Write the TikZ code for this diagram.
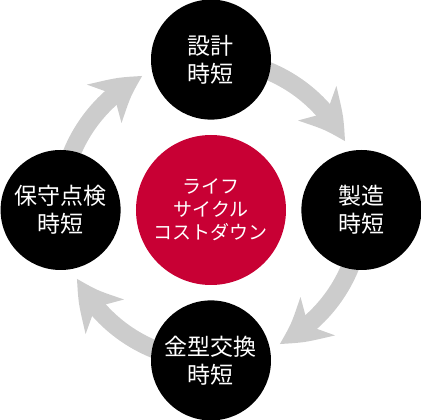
\documentclass[tikz,border=0pt]{standalone}
\usepackage{fontspec}
\newfontfamily\jpfont{Noto Sans CJK JP}
\usetikzlibrary{positioning,arrows.meta,bending,backgrounds}

\definecolor{lcred}{RGB}{200,0,52}
\definecolor{ringgray}{RGB}{204,204,204}

\begin{document}
\begin{tikzpicture}[
    x=1pt, y=1pt,
    phase/.style={circle, fill=black, text=white, minimum size=120pt,
                  inner sep=0pt, align=center,
                  font=\jpfont\fontsize{23}{28}\selectfont},
    hub/.style={circle, fill=lcred, text=white, minimum size=150pt,
                inner sep=0pt, align=center,
                font=\jpfont\fontsize{19}{23}\selectfont},
    cycle/.style={draw=ringgray, line width=18pt,
                  -{Stealth[length=47pt, width=50pt, inset=13pt, bend]}},
    node distance=15pt
]
\useasboundingbox (-211,-210) rectangle (210,210);

% centre
\node[hub] (life) at (0,0) {ライフ\\サイクル\\コストダウン};

% four phases round the centre
\node[phase, above=of life] (design) {設計\\時短};
\node[phase, right=of life] (make) {製造\\時短};
\node[phase, below=of life] (mold) {金型交換\\時短};
\node[phase, left=of life] (upkeep) {保守点検\\時短};

% clockwise ring, behind the circles
\begin{scope}[on background layer]
  \draw[cycle] (design.center) arc[start angle=90, end angle=27, radius=150];
  \draw[cycle] (make.center) arc[start angle=0, end angle=-63, radius=150];
  \draw[cycle] (mold.center) arc[start angle=-90, end angle=-153, radius=150];
  \draw[cycle] (upkeep.center) arc[start angle=180, end angle=117, radius=150];
\end{scope}
\end{tikzpicture}
\end{document}
